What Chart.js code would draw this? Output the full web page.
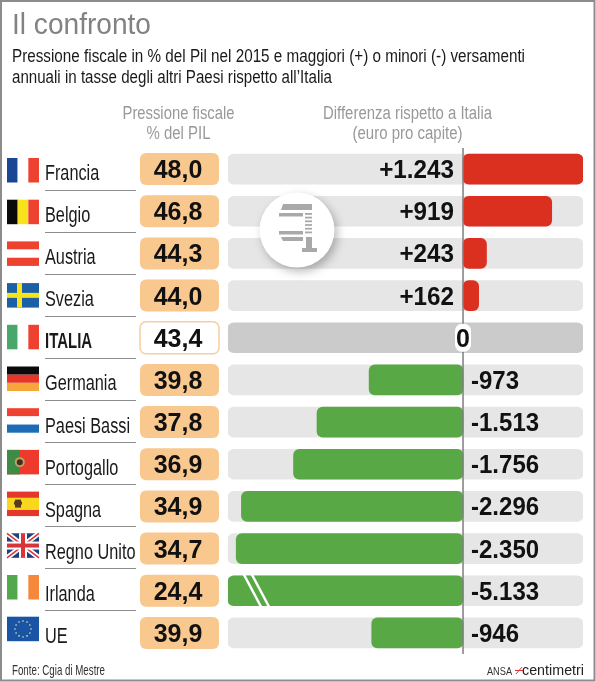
<!DOCTYPE html>
<html lang="it">
<head>
<meta charset="utf-8">
<title>Il confronto</title>
<script src="https://cdn.jsdelivr.net/npm/chart.js@4/dist/chart.umd.min.js"></script>
<style>
  html, body { margin: 0; padding: 0; background: #fff; }
  canvas { display: block; }
</style>
</head>
<body>
<canvas id="grafico" width="596" height="682"></canvas>
<script>
// Dati
const categories = ['Francia', 'Belgio', 'Austria', 'Svezia', 'ITALIA', 'Germania', 'Paesi Bassi', 'Portogallo', 'Spagna', 'Regno Unito', 'Irlanda', 'UE'];
const pressione = ['48,0', '46,8', '44,3', '44,0', '43,4', '39,8', '37,8', '36,9', '34,9', '34,7', '24,4', '39,9'];
const differenza = [1243, 919, 243, 162, 0, -973, -1513, -1756, -2296, -2350, -5133, -946];
const differenzaLabels = ['+1.243', '+919', '+243', '+162', '0', '-973', '-1.513', '-1.756', '-2.296', '-2.350', '-5.133', '-946'];

// L'asse e' interrotto a sinistra: Irlanda non entra nella scala
const axisMin = -2435;
const axisMax = 1243;
const italiaIndex = categories.indexOf('ITALIA');

const SANS = '"Liberation Sans", sans-serif';
const BOLD = 'bold 25px ' + SANS;

// Il carattere originale e' un Helvetica stretto: si comprime il Liberation in orizzontale
function testoScalato(ctx, str, x, y, font, color, align, sx) {
  ctx.save();
  ctx.font = font;
  ctx.fillStyle = color;
  ctx.textAlign = align || 'left';
  ctx.textBaseline = 'alphabetic';
  ctx.translate(x, y);
  ctx.scale(sx || 1, 1);
  ctx.fillText(str, 0, 0);
  ctx.restore();
}

function testoLargo(ctx, str, x, y, font, color, align, larghezza) {
  ctx.font = font;
  testoScalato(ctx, str, x, y, font, color, align, larghezza / ctx.measureText(str).width);
}

function riquadro(ctx, x, y, w, h, r, fill, stroke) {
  ctx.beginPath();
  ctx.roundRect(x, y, w, h, r);
  if (fill) { ctx.fillStyle = fill; ctx.fill(); }
  if (stroke) { ctx.strokeStyle = stroke; ctx.lineWidth = 1.5; ctx.stroke(); }
}

function bandeVerticali(ctx, x, y, w, h, colori) {
  colori.forEach((c, i) => {
    ctx.fillStyle = c;
    ctx.fillRect(x + i * w / 3, y, w / 3, h);
  });
}

function bandeOrizzontali(ctx, x, y, w, h, colori) {
  colori.forEach((c, i) => {
    ctx.fillStyle = c;
    ctx.fillRect(x, y + i * h / 3, w, h / 3);
  });
}

// Bandiere disegnate a mano, una per paese
const bandiere = {
  'Francia': (c, x, y, w, h) => bandeVerticali(c, x, y, w, h, ['#1b4595', '#fff', '#ee4130']),
  'Belgio': (c, x, y, w, h) => bandeVerticali(c, x, y, w, h, ['#0a0a0a', '#f8e21c', '#ee4130']),
  'Austria': (c, x, y, w, h) => bandeOrizzontali(c, x, y, w, h, ['#ee4130', '#fff', '#ee4130']),
  'Svezia': (c, x, y, w, h) => {
    c.fillStyle = '#1b5fa5';
    c.fillRect(x, y, w, h);
    c.fillStyle = '#f8e21c';
    c.fillRect(x, y + h / 2 - 2.5, w, 5);
    c.fillRect(x + 10, y, 5, h);
  },
  'ITALIA': (c, x, y, w, h) => bandeVerticali(c, x, y, w, h, ['#4aa76b', '#fff', '#ee4130']),
  'Germania': (c, x, y, w, h) => bandeOrizzontali(c, x, y, w, h, ['#0a0a0a', '#e5362b', '#f7a63a']),
  'Paesi Bassi': (c, x, y, w, h) => bandeOrizzontali(c, x, y, w, h, ['#ee4130', '#fff', '#1c6db6']),
  'Portogallo': (c, x, y, w, h) => {
    c.fillStyle = '#ee3a2c';
    c.fillRect(x, y, w, h);
    c.fillStyle = '#3f8a45';
    c.fillRect(x, y, w * 0.4, h);
    c.beginPath();
    c.arc(x + w * 0.4, y + h / 2, 5, 0, Math.PI * 2);
    c.fillStyle = '#b9a45a';
    c.fill();
    c.beginPath();
    c.arc(x + w * 0.4, y + h / 2, 3, 0, Math.PI * 2);
    c.fillStyle = '#4a2a28';
    c.fill();
  },
  'Spagna': (c, x, y, w, h) => {
    c.fillStyle = '#e5362b';
    c.fillRect(x, y, w, h);
    c.fillStyle = '#f8d81c';
    c.fillRect(x, y + h / 4, w, h / 2);
    c.fillStyle = '#5b3a1e';
    c.fillRect(x + 8, y + 8, 6, 8);
    c.fillRect(x + 7, y + 10, 8, 3);
  },
  'Regno Unito': (c, x, y, w, h) => {
    c.fillStyle = '#1f3f7f';
    c.fillRect(x, y, w, h);
    c.lineWidth = 5;
    c.strokeStyle = '#fff';
    c.beginPath();
    c.moveTo(x, y); c.lineTo(x + w, y + h);
    c.moveTo(x + w, y); c.lineTo(x, y + h);
    c.stroke();
    c.lineWidth = 1.5;
    c.strokeStyle = '#d8343c';
    c.stroke();
    c.fillStyle = '#fff';
    c.fillRect(x, y + h / 2 - 4, w, 8);
    c.fillRect(x + w / 2 - 4, y, 8, h);
    c.fillStyle = '#d8343c';
    c.fillRect(x, y + h / 2 - 2, w, 4);
    c.fillRect(x + w / 2 - 2, y, 4, h);
  },
  'Irlanda': (c, x, y, w, h) => bandeVerticali(c, x, y, w, h, ['#52a84c', '#fff', '#f5883a']),
  'UE': (c, x, y, w, h) => {
    c.fillStyle = '#1a55a5';
    c.fillRect(x, y, w, h);
    c.fillStyle = '#e8e8b0';
    for (let i = 0; i < 12; i++) {
      const a = i * Math.PI / 6;
      c.beginPath();
      c.arc(x + w / 2 + Math.cos(a) * 8, y + h / 2 + Math.sin(a) * 8, 0.8, 0, Math.PI * 2);
      c.fill();
    }
  }
};

function medaglione(ctx, cx, cy) {
  ctx.save();
  ctx.shadowColor = 'rgba(0,0,0,0.28)';
  ctx.shadowBlur = 10;
  ctx.shadowOffsetX = 3;
  ctx.shadowOffsetY = 4;
  ctx.fillStyle = '#fff';
  ctx.beginPath();
  ctx.arc(cx, cy, 37.5, 0, Math.PI * 2);
  ctx.fill();
  ctx.restore();

  // morsa grigia, coordinate relative al centro del cerchio
  ctx.fillStyle = '#a9a9a9';
  ctx.beginPath();
  ctx.moveTo(cx - 14, cy - 26); ctx.lineTo(cx + 15, cy - 26); ctx.lineTo(cx + 15, cy - 20); ctx.lineTo(cx - 16, cy - 20);
  ctx.closePath();
  ctx.fill();
  ctx.beginPath();
  ctx.moveTo(cx - 16, cy + 7); ctx.lineTo(cx + 6, cy + 7); ctx.lineTo(cx + 6, cy + 11); ctx.lineTo(cx - 14, cy + 11);
  ctx.closePath();
  ctx.fill();
  ctx.fillRect(cx - 18, cy - 17, 24, 3.5);
  ctx.fillRect(cx - 18, cy + 1, 24, 3.5);
  for (let i = 0; i < 6; i++) {
    ctx.fillRect(cx + 8, cy - 17 + i * 3.7, 7, 1.8);
  }
  ctx.fillRect(cx + 9, cy + 7, 6, 12);
  ctx.fillRect(cx + 5, cy + 18, 15, 4);
}

const infografica = {
  id: 'infografica',
  // titoli, bandiere, nomi e riquadri sotto le barre
  beforeDatasetsDraw(chart) {
    const ctx = chart.ctx;
    const y = chart.scales.y;
    ctx.save();

    ctx.fillStyle = '#fff';
    ctx.fillRect(0, 0, 596, 682);
    ctx.strokeStyle = '#8c8c8c';
    ctx.lineWidth = 2;
    ctx.strokeRect(1, 1, 593.5, 679.5);

    testoLargo(ctx, 'Il confronto', 12, 34, '29px ' + SANS, '#828282', 'left', 139);
    testoLargo(ctx, 'Pressione fiscale in % del Pil nel 2015 e maggiori (+) o minori (-) versamenti', 12, 62, '17.5px ' + SANS, '#1a1a1a', 'left', 513);
    testoLargo(ctx, 'annuali in tasse degli altri Paesi rispetto all\u2019Italia', 12, 83, '17.5px ' + SANS, '#1a1a1a', 'left', 320);
    testoLargo(ctx, 'Pressione fiscale', 178.5, 119, '18px ' + SANS, '#999', 'center', 112);
    testoLargo(ctx, '% del PIL', 178.5, 139, '18px ' + SANS, '#999', 'center', 64);
    testoLargo(ctx, 'Differenza rispetto a Italia', 407.5, 119, '18px ' + SANS, '#999', 'center', 169);
    testoLargo(ctx, '(euro pro capite)', 407.5, 139, '18px ' + SANS, '#999', 'center', 110);
    testoLargo(ctx, 'Fonte: Cgia di Mestre', 12, 675, '14.5px ' + SANS, '#333', 'left', 93);
    testoLargo(ctx, 'ANSA', 487, 675, '10px ' + SANS, '#333', 'left', 25);
    testoLargo(ctx, 'centimetri', 522, 675, '14px ' + SANS, '#222', 'left', 62);
    ctx.strokeStyle = '#d8343c';
    ctx.lineWidth = 1;
    ctx.beginPath();
    ctx.moveTo(515, 670.5); ctx.lineTo(523, 670.5);
    ctx.moveTo(516, 674); ctx.lineTo(522, 667);
    ctx.stroke();

    categories.forEach((nome, i) => {
      const cy = y.getPixelForValue(i);
      bandiere[nome](ctx, 7, 158 + 41.7 * i, 32, 24.5);

      const italia = i === italiaIndex;
      if (italia) {
        testoScalato(ctx, nome, 45, cy + 10.5, 'bold 22px ' + SANS, '#1a1a1a', 'left', 0.68);
      } else {
        testoScalato(ctx, nome, 45, cy + 10.5, '22px ' + SANS, '#1a1a1a', 'left', 0.74);
      }
      if (i < categories.length - 1) {
        ctx.fillStyle = '#8c8c8c';
        ctx.fillRect(45, 190 + 42 * i, 91, 1);
      }

      if (italia) {
        riquadro(ctx, 140, cy - 16, 79, 32, 6, '#fff', '#f6cf9f');
      } else {
        riquadro(ctx, 140, cy - 16, 79, 32, 6, '#f9c88f');
      }
      testoScalato(ctx, pressione[i], 178, cy + 9, BOLD, '#111', 'center');
    });
    ctx.restore();
  },
  // asse dello zero, etichette e medaglione sopra le barre
  afterDatasetsDraw(chart) {
    const ctx = chart.ctx;
    const x = chart.scales.x;
    const y = chart.scales.y;
    const x0 = x.getPixelForValue(0);
    ctx.save();

    ctx.fillStyle = '#7f7f7f';
    ctx.fillRect(x0 - 0.75, chart.chartArea.top, 1.5, chart.chartArea.bottom - chart.chartArea.top);

    // interruzione della barra dell'Irlanda
    const yIrl = y.getPixelForValue(categories.indexOf('Irlanda'));
    ctx.strokeStyle = '#fff';
    ctx.lineWidth = 2.5;
    [244, 252].forEach(px => {
      ctx.beginPath();
      ctx.moveTo(px, yIrl - 16);
      ctx.lineTo(px + 17, yIrl + 16);
      ctx.stroke();
    });

    medaglione(ctx, 297, 230);

    differenza.forEach((v, i) => {
      const cy = y.getPixelForValue(i);
      if (v > 0) {
        testoScalato(ctx, differenzaLabels[i], x0 - 9, cy + 9, BOLD, '#111', 'right', 0.97);
      } else if (v < 0) {
        testoScalato(ctx, differenzaLabels[i], x0 + 8, cy + 9, BOLD, '#111', 'left', 0.96);
      } else {
        riquadro(ctx, x0 - 8, cy - 14, 16, 28, 7, '#fff');
        testoScalato(ctx, differenzaLabels[i], x0, cy + 9, BOLD, '#111', 'center');
      }
    });
    ctx.restore();
  }
};

new Chart(document.getElementById('grafico'), {
  type: 'bar',
  plugins: [infografica],
  data: {
    labels: categories,
    datasets: [
      {
        // barre colorate, tagliate dove l'asse si interrompe
        data: differenza.map(v => Math.max(v, axisMin)),
        backgroundColor: differenza.map(v => (v > 0 ? '#db2f20' : '#58a846')),
        borderRadius: 6,
        borderSkipped: false,
        barThickness: 30,
        grouped: false,
        order: 1
      },
      {
        // fondo grigio di ogni riga
        data: categories.map(() => [axisMin, axisMax]),
        backgroundColor: categories.map((c, i) => (i === italiaIndex ? '#cbcbcb' : '#e6e6e6')),
        borderRadius: 6,
        borderSkipped: false,
        barThickness: 30,
        grouped: false,
        order: 2
      }
    ]
  },
  options: {
    indexAxis: 'y',
    responsive: false,
    animation: false,
    devicePixelRatio: 1,
    layout: { padding: { left: 228, right: 13, top: 148, bottom: 28 } },
    scales: {
      x: { display: false, min: axisMin, max: axisMax },
      y: { display: false }
    },
    plugins: {
      legend: { display: false },
      tooltip: { enabled: false }
    }
  }
});
</script>
</body>
</html>
